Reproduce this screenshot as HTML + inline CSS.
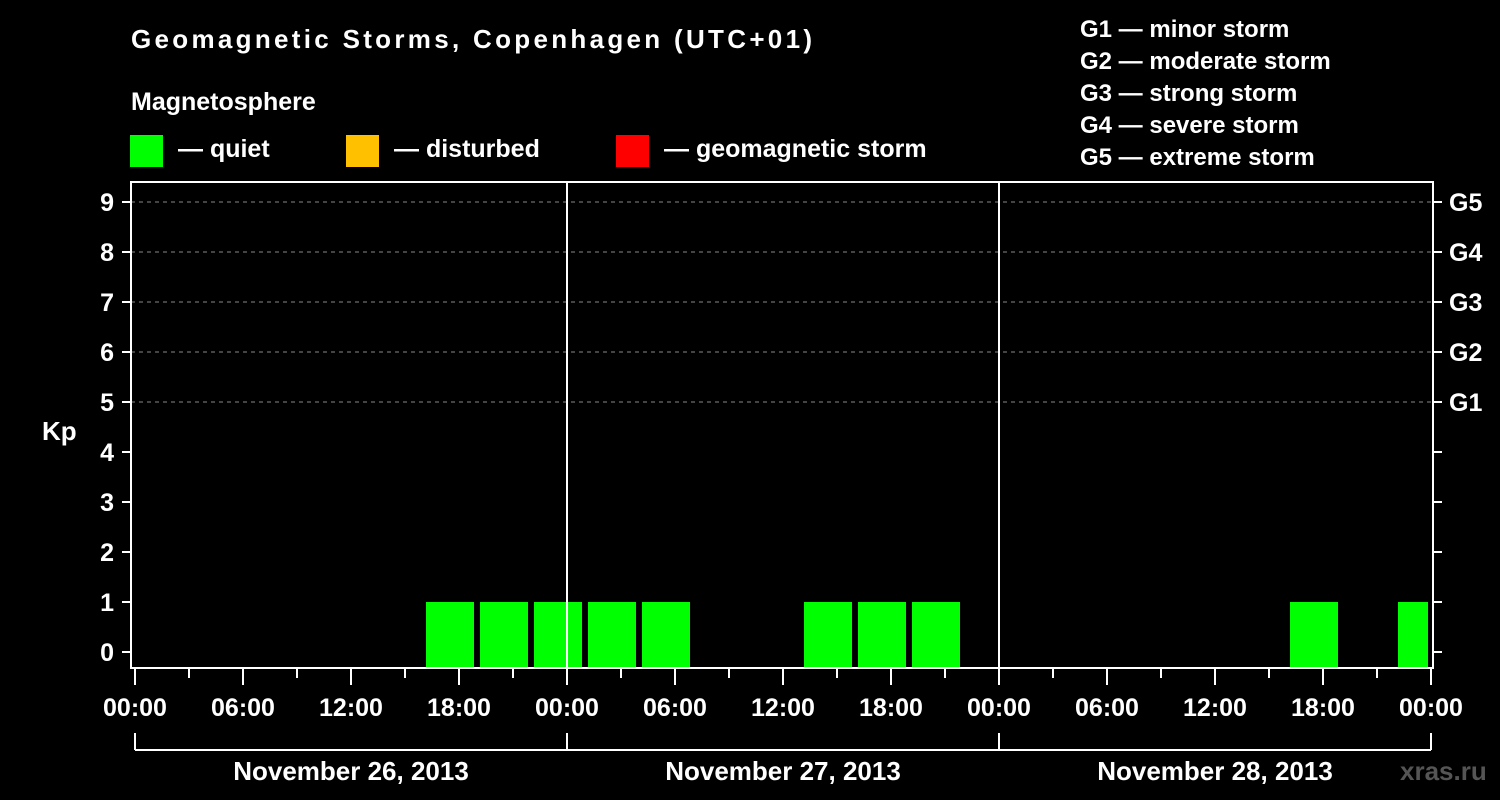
<!DOCTYPE html>
<html><head><meta charset="utf-8"><style>
html,body{margin:0;padding:0;background:#000;}
svg{display:block;font-family:"Liberation Sans",Arial,sans-serif;font-weight:bold;}
</style></head><body>
<svg id="c" width="1500" height="800" viewBox="0 0 1500 800">
<rect x="0" y="0" width="1500" height="800" fill="#000"/>
<text x="131" y="48" font-size="26" fill="#fff" textLength="681">Geomagnetic Storms, Copenhagen (UTC+01)</text>
<text x="131" y="110" font-size="25" fill="#fff">Magnetosphere</text>
<g><rect x="130" y="135" width="33" height="32" fill="#00ff00"/><text x="178" y="157" font-size="25" fill="#fff">— quiet</text></g>
<g><rect x="346" y="135" width="33" height="32" fill="#ffc000"/><text x="394" y="157" font-size="25" fill="#fff">— disturbed</text></g>
<g><rect x="616" y="135" width="33" height="32" fill="#ff0000"/><text x="664" y="157" font-size="25" fill="#fff">— geomagnetic storm</text></g>
<g font-size="24" fill="#fff">
<text x="1080" y="37">G1 — minor storm</text>
<text x="1080" y="69">G2 — moderate storm</text>
<text x="1080" y="101">G3 — strong storm</text>
<text x="1080" y="133">G4 — severe storm</text>
<text x="1080" y="165">G5 — extreme storm</text>
</g>
<text x="42" y="440" font-size="26" fill="#fff">Kp</text>
<text x="1400" y="780" font-size="26" fill="#555">xras.ru</text>
<g id="plot"></g>
</svg>
<script>
const slotStartHours = [1,4,7,10,13,16,19,22,25,28,31,34,37,40,43,46,49,52,55,58,61,64,67,70];
const kpValues = [0,0,0,0,0,1,1,1,1,1,0,0,1,1,1,0,0,0,0,0,0,1,0,1];
const kpTicks = ['0','1','2','3','4','5','6','7','8','9'];
const gLabels = ['G1','G2','G3','G4','G5'];
const timeLabels = ['00:00','06:00','12:00','18:00','00:00','06:00','12:00','18:00','00:00','06:00','12:00','18:00','00:00'];
const dateLabels = ['November 26, 2013','November 27, 2013','November 28, 2013'];

const NS='http://www.w3.org/2000/svg';
const g=document.getElementById('plot');
const X0=135, PXH=18, HOURS=72, L=131, R=1433, T=182, B=668;
const xs=h=>X0+h*PXH;
const ys=k=>652-k*50;
function mk(tag,a,parent){const e=document.createElementNS(NS,tag);for(const k in a)e.setAttribute(k,a[k]);(parent||g).appendChild(e);return e;}

// gridlines
for(let k=5;k<=9;k++){
  const l=mk('line',{x1:L,x2:R,y1:ys(k),y2:ys(k),stroke:'#888','stroke-width':1,'stroke-dasharray':'4,4'});
  
  
}
// bars
kpValues.forEach((v,i)=>{
  if(v<=0)return;
  const s=slotStartHours[i];
  const x1=Math.max(xs(s)+3,L), x2=Math.min(xs(s+3)-3,xs(HOURS)-3);
  const c=v>=5?'#ff0000':(v>=4?'#ffc000':'#00ff00');
  const r=mk('rect',{x:x1,y:ys(v),width:x2-x1,height:B-ys(v),fill:c});
  
  
});
// day separators
for(let d=1;d<3;d++){
  const l=mk('line',{x1:xs(d*24),x2:xs(d*24),y1:T,y2:B,stroke:'#fff','stroke-width':2});
  
  
}
// frame
const f=mk('rect',{x:L,y:T,width:R-L,height:B-T,fill:'none',stroke:'#fff','stroke-width':2});


// y ticks & labels
kpTicks.forEach((t,k)=>{
  mk('line',{x1:122,x2:L,y1:ys(k),y2:ys(k),stroke:'#fff','stroke-width':2});
  mk('line',{x1:R,x2:1442,y1:ys(k),y2:ys(k),stroke:'#fff','stroke-width':2});
  const tx=mk('text',{x:114,y:ys(k)+9,'font-size':25,fill:'#fff','text-anchor':'end'});
  tx.textContent=t;
  
  
});
gLabels.forEach((t,i)=>{
  const tx=mk('text',{x:1449,y:ys(5+i)+9,'font-size':25,fill:'#fff'});
  tx.textContent=t;
  
  
});
// x ticks
for(let h=0;h<=HOURS;h+=3){
  const major=h%6===0;
  mk('line',{x1:xs(h),x2:xs(h),y1:B,y2:major?685:678,stroke:'#fff','stroke-width':2});
}
timeLabels.forEach((t,i)=>{
  const tx=mk('text',{x:xs(i*6),y:716,'font-size':25,fill:'#fff','text-anchor':'middle'});
  tx.textContent=t;
  
  
});
// date bracket
mk('line',{x1:xs(0),x2:xs(HOURS),y1:750,y2:750,stroke:'#fff','stroke-width':2});
for(let d=0;d<=3;d++) mk('line',{x1:xs(d*24),x2:xs(d*24),y1:733,y2:750,stroke:'#fff','stroke-width':2});
dateLabels.forEach((t,i)=>{
  const tx=mk('text',{x:xs(i*24+12),y:780,'font-size':26,fill:'#fff','text-anchor':'middle'});
  tx.textContent=t;
  
  
});
</script>
</body></html>
